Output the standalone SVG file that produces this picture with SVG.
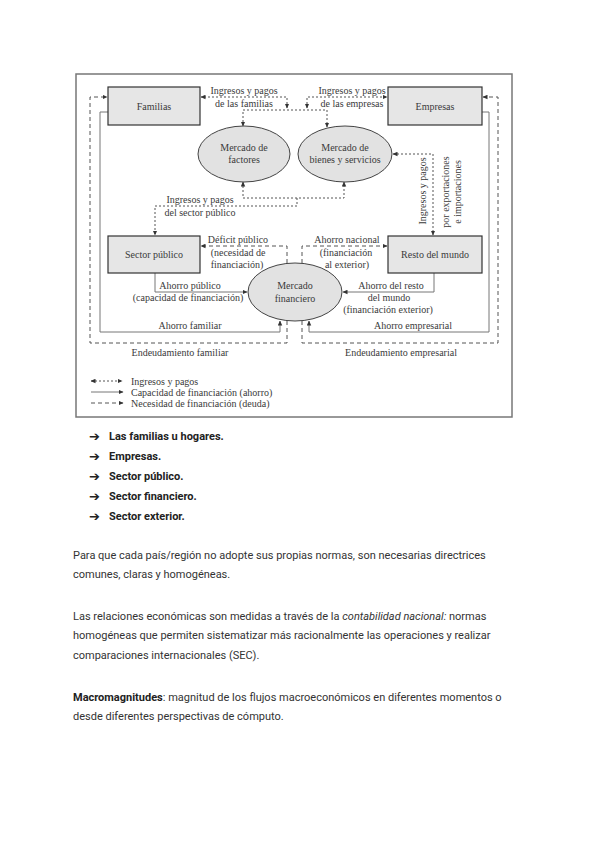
<svg xmlns="http://www.w3.org/2000/svg" width="600" height="848" viewBox="0 0 600 848">
<defs>
<style>
.t{font-family:"Liberation Serif","Times New Roman",serif;font-size:10px;fill:#3a3a3a;text-anchor:middle}
.tl{text-anchor:start}
.box{fill:#e6e6e6;stroke:#333;stroke-width:1.2}
.ell{fill:#e2e2e2;stroke:#444;stroke-width:1}
.dot{fill:none;stroke:#555;stroke-width:1;stroke-dasharray:2 2}
.dash{fill:none;stroke:#555;stroke-width:1;stroke-dasharray:4 3}
.sol{fill:none;stroke:#777;stroke-width:1}
.p{font-family:Roboto,"Liberation Sans",sans-serif;font-size:11px;fill:#333}
.b{font-family:Roboto,"Liberation Sans",sans-serif;font-size:11px;font-weight:bold;fill:#222}
.ar{font-family:"DejaVu Sans",sans-serif;font-size:13px;fill:#222}
</style>
<marker id="ah" viewBox="0 0 10 10" refX="9" refY="5" markerWidth="5" markerHeight="5" markerUnits="userSpaceOnUse" orient="auto-start-reverse"><path d="M0,0.5L10,5L0,9.5z" fill="#333"/></marker>
</defs>
<rect width="600" height="848" fill="#fff"/>
<rect id="frame" x="76" y="74" width="436" height="343" fill="#fff" stroke="#777" stroke-width="1.5"/>

<g id="connectors">
<path class="dot" d="M287,108V97H201" marker-start="url(#ah)" marker-end="url(#ah)"/>
<path class="dot" d="M307,108V97H387" marker-start="url(#ah)" marker-end="url(#ah)"/>
<path class="dot" d="M243,126V110H327V127" marker-start="url(#ah)" marker-end="url(#ah)"/>
<path class="dot" d="M243,182V198H344V182" marker-start="url(#ah)" marker-end="url(#ah)"/>
<path class="dot" d="M297,198V206H155V235" marker-end="url(#ah)"/>
<path class="dot" d="M393,154H433V235" marker-start="url(#ah)" marker-end="url(#ah)"/>
<path class="dash" d="M287,263V246H201" marker-end="url(#ah)"/>
<path class="dash" d="M302,263V246H387" marker-end="url(#ah)"/>
<path class="dash" d="M287,321V343H90V97H107" marker-end="url(#ah)"/>
<path class="dash" d="M302,321V343H498V97H483" marker-end="url(#ah)"/>
<path class="sol" d="M155,273V292H247" marker-end="url(#ah)"/>
<path class="sol" d="M434,273V292H343" marker-end="url(#ah)"/>
<path class="sol" d="M108,112H100V332H280V321" marker-end="url(#ah)"/>
<path class="sol" d="M482,112H489V332H309V321" marker-end="url(#ah)"/>
</g>

<g id="familias"><rect class="box" x="108" y="87" width="92" height="38"/><text class="t" x="154" y="110">Familias</text></g>
<g id="empresas"><rect class="box" x="388" y="87" width="94" height="38"/><text class="t" x="435" y="110">Empresas</text></g>
<g id="mercado-factores"><ellipse class="ell" cx="244" cy="154" rx="46" ry="28"/><text class="t" x="244" y="151">Mercado de</text><text class="t" x="244" y="163">factores</text></g>
<g id="mercado-bienes"><ellipse class="ell" cx="345" cy="154" rx="47" ry="28"/><text class="t" x="345" y="151">Mercado de</text><text class="t" x="345" y="163">bienes y servicios</text></g>
<g id="sector-publico"><rect class="box" x="108" y="236" width="92" height="37"/><text class="t" x="154" y="258">Sector público</text></g>
<g id="resto-mundo"><rect class="box" x="388" y="236" width="94" height="37"/><text class="t" x="435" y="258">Resto del mundo</text></g>
<g id="mercado-financiero"><ellipse class="ell" cx="295" cy="292" rx="47" ry="29"/><text class="t" x="295" y="289">Mercado</text><text class="t" x="295" y="302">financiero</text></g>

<g id="labels">
<text class="t" x="244" y="94">Ingresos y pagos</text>
<text class="t" x="244" y="107">de las familias</text>
<text class="t" x="352" y="94">Ingresos y pagos</text>
<text class="t" x="352" y="107">de las empresas</text>
<text class="t" x="200" y="203">Ingresos y pagos</text>
<text class="t" x="200" y="216">del sector público</text>
<text class="t" transform="translate(426,191) rotate(-90)">Ingresos y pagos</text>
<text class="t" transform="translate(449,192) rotate(-90)">por exportaciones</text>
<text class="t" transform="translate(461,192) rotate(-90)">e importaciones</text>
<text class="t" x="238" y="243">Déficit público</text>
<text class="t" x="238" y="256">(necesidad de</text>
<text class="t" x="237" y="268">financiación)</text>
<text class="t" x="347" y="243">Ahorro nacional</text>
<text class="t" x="346" y="256">(financiación</text>
<text class="t" x="347" y="268">al exterior)</text>
<text class="t" x="190" y="289">Ahorro público</text>
<text class="t" x="188" y="301">(capacidad de financiación)</text>
<text class="t" x="391" y="289">Ahorro del resto</text>
<text class="t" x="389" y="301">del mundo</text>
<text class="t" x="388" y="313">(financiación exterior)</text>
<text class="t" x="190" y="329">Ahorro familiar</text>
<text class="t" x="413" y="329">Ahorro empresarial</text>
<text class="t" x="180" y="356">Endeudamiento familiar</text>
<text class="t" x="401" y="356">Endeudamiento empresarial</text>
</g>

<g id="legend">
<path class="dot" d="M91,381H122" marker-start="url(#ah)" marker-end="url(#ah)"/>
<path class="sol" d="M91,392H123" marker-end="url(#ah)"/>
<path class="dash" d="M91,403H123" marker-end="url(#ah)"/>
<text class="t tl" x="131" y="384.5">Ingresos y pagos</text>
<text class="t tl" x="131" y="395.5">Capacidad de financiación (ahorro)</text>
<text class="t tl" x="131" y="406.5">Necesidad de financiación (deuda)</text>
</g>

<g id="bullets">
<text class="ar" x="89" y="441">➔</text><text class="b" x="109" y="440">Las familias u hogares.</text>
<text class="ar" x="89" y="461">➔</text><text class="b" x="109" y="460">Empresas.</text>
<text class="ar" x="89" y="481">➔</text><text class="b" x="109" y="480">Sector público.</text>
<text class="ar" x="89" y="501">➔</text><text class="b" x="109" y="500">Sector financiero.</text>
<text class="ar" x="89" y="521">➔</text><text class="b" x="109" y="520">Sector exterior.</text>
</g>

<g id="text">
<text class="p" x="73" y="559">Para que cada país/región no adopte sus propias normas, son necesarias directrices</text>
<text class="p" x="73" y="578">comunes, claras y homogéneas.</text>
<text class="p" x="73" y="620">Las relaciones económicas son medidas a través de la <tspan font-style="italic">contabilidad nacional:</tspan> normas</text>
<text class="p" x="73" y="639">homogéneas que permiten sistematizar más racionalmente las operaciones y realizar</text>
<text class="p" x="73" y="659">comparaciones internacionales (SEC).</text>
<text class="p" x="73" y="701"><tspan font-weight="bold" fill="#222">Macromagnitudes</tspan>: magnitud de los flujos macroeconómicos en diferentes momentos o</text>
<text class="p" x="73" y="720">desde diferentes perspectivas de cómputo.</text>
</g>
</svg>
